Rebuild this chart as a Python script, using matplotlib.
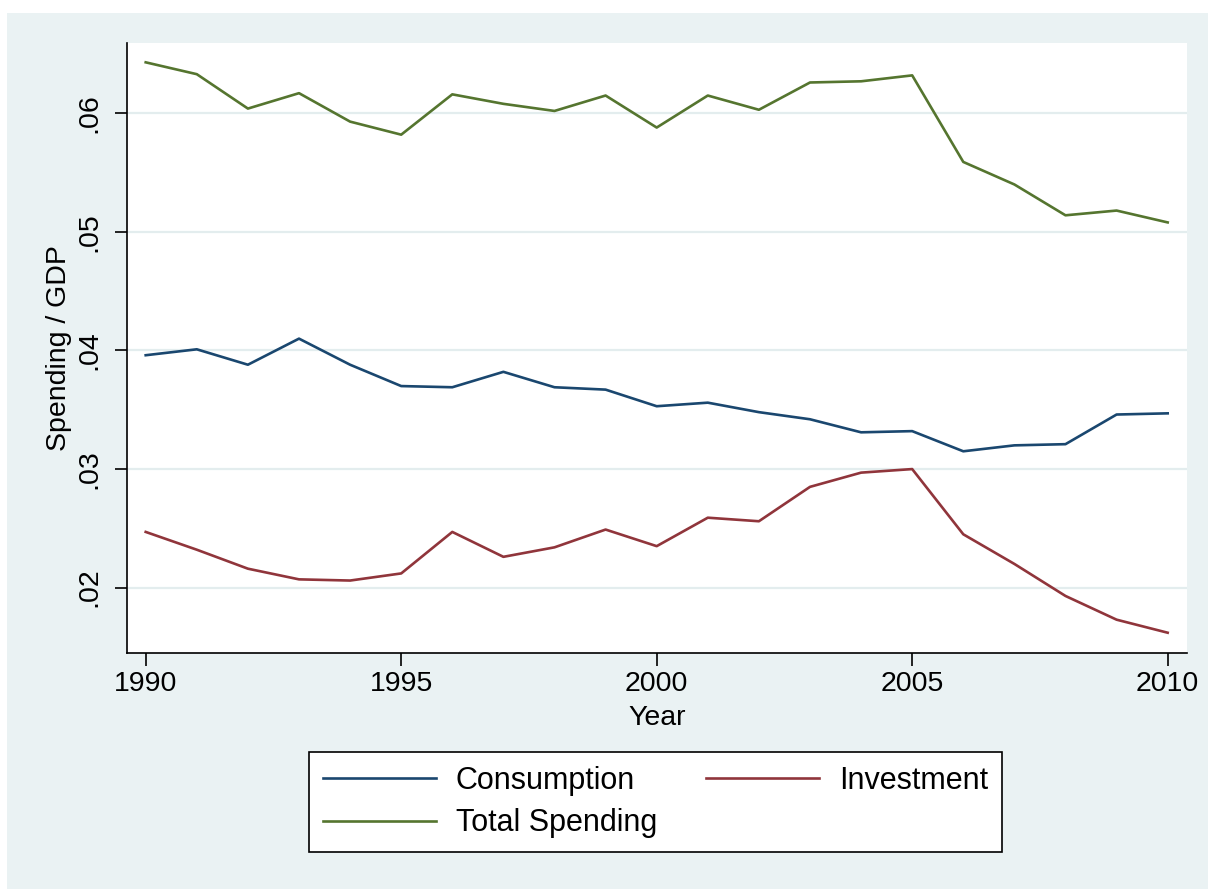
import matplotlib
matplotlib.use("Agg")
import matplotlib.pyplot as plt
from matplotlib.patches import Rectangle

# ---------------- Data ----------------
years = list(range(1990, 2011))

consumption = [0.0396, 0.0401, 0.0388, 0.0410, 0.0388, 0.0370, 0.0369, 0.0382,
               0.0369, 0.0367, 0.0353, 0.0356, 0.0348, 0.0342, 0.0331, 0.0332,
               0.0315, 0.0320, 0.0321, 0.0346, 0.0347]

investment = [0.0247, 0.0232, 0.0216, 0.0207, 0.0206, 0.0212, 0.0247, 0.0226,
              0.0234, 0.0249, 0.0235, 0.0259, 0.0256, 0.0285, 0.0297, 0.0300,
              0.0245, 0.0220, 0.0193, 0.0173, 0.0162]

total_spending = [0.0643, 0.0633, 0.0604, 0.0617, 0.0593, 0.0582, 0.0616, 0.0608,
                  0.0602, 0.0615, 0.0588, 0.0615, 0.0603, 0.0626, 0.0627, 0.0632,
                  0.0559, 0.0540, 0.0514, 0.0518, 0.0508]

x_ticks = [1990, 1995, 2000, 2005, 2010]
y_ticks = [0.02, 0.03, 0.04, 0.05, 0.06]
y_labels = [".02", ".03", ".04", ".05", ".06"]

# ---------------- Style ----------------
plt.rcParams["font.family"] = ["Liberation Sans", "DejaVu Sans"]
BG = "#EAF2F3"
GRID = "#E3EDEE"
NAVY = "#1A476F"
MAROON = "#90353B"
GREEN = "#55752F"

W, H = 1208, 889
fig = plt.figure(figsize=(W / 100, H / 100), dpi=100, facecolor="white")

# stata-like outer background
fig.patches.append(Rectangle((7 / W, 0), 1 - 7 / W, 1 - 13 / H,
                             transform=fig.transFigure, facecolor=BG,
                             edgecolor="none", zorder=-10))

ax = fig.add_axes([127 / W, (H - 653) / H, 1060 / W, 610 / H])
ax.set_facecolor("white")

l_cons, = ax.plot(years, consumption, color=NAVY, lw=1.9, label="Consumption")
l_inv, = ax.plot(years, investment, color=MAROON, lw=1.9, label="Investment")
l_tot, = ax.plot(years, total_spending, color=GREEN, lw=1.9, label="Total Spending")

ax.set_xlim(1989.634, 2010.378)
ax.set_ylim(0.01449, 0.06593)

ax.set_xticks(x_ticks)
ax.set_yticks(y_ticks)
ax.set_yticklabels(y_labels, rotation=90, va="center")

for y in y_ticks:
    ax.axhline(y, color=GRID, lw=1.6, zorder=0)

for side in ["top", "right"]:
    ax.spines[side].set_visible(False)
for side in ["left", "bottom"]:
    ax.spines[side].set_linewidth(1.2)
    ax.spines[side].set_color("black")

ax.tick_params(axis="both", length=9, width=1.2, labelsize=20.5, color="black")
ax.tick_params(axis="x", pad=4)
ax.tick_params(axis="y", pad=9)

ax.set_xlabel("Year", fontsize=20.5, labelpad=6)
ax.set_ylabel("Spending / GDP", fontsize=20.5, labelpad=3)

# ---------------- Legend ----------------
# row-major order like stata: Consumption, Investment / Total Spending
leg = ax.legend([l_cons, l_tot, l_inv],
                ["Consumption", "Total Spending", "Investment"],
                loc="center", bbox_to_anchor=(655.5 / W, (H - 802) / H),
                bbox_transform=fig.transFigure, ncol=2, fontsize=22,
                frameon=True, fancybox=False, edgecolor="black",
                handlelength=3.7, handletextpad=0.65, columnspacing=1.6,
                labelspacing=0.42, borderpad=0.45, borderaxespad=0)
leg.get_frame().set_linewidth(1.2)
leg.get_frame().set_facecolor("white")
leg.get_frame().set_alpha(1)

fig.savefig("out.png", dpi=100, facecolor="white")
